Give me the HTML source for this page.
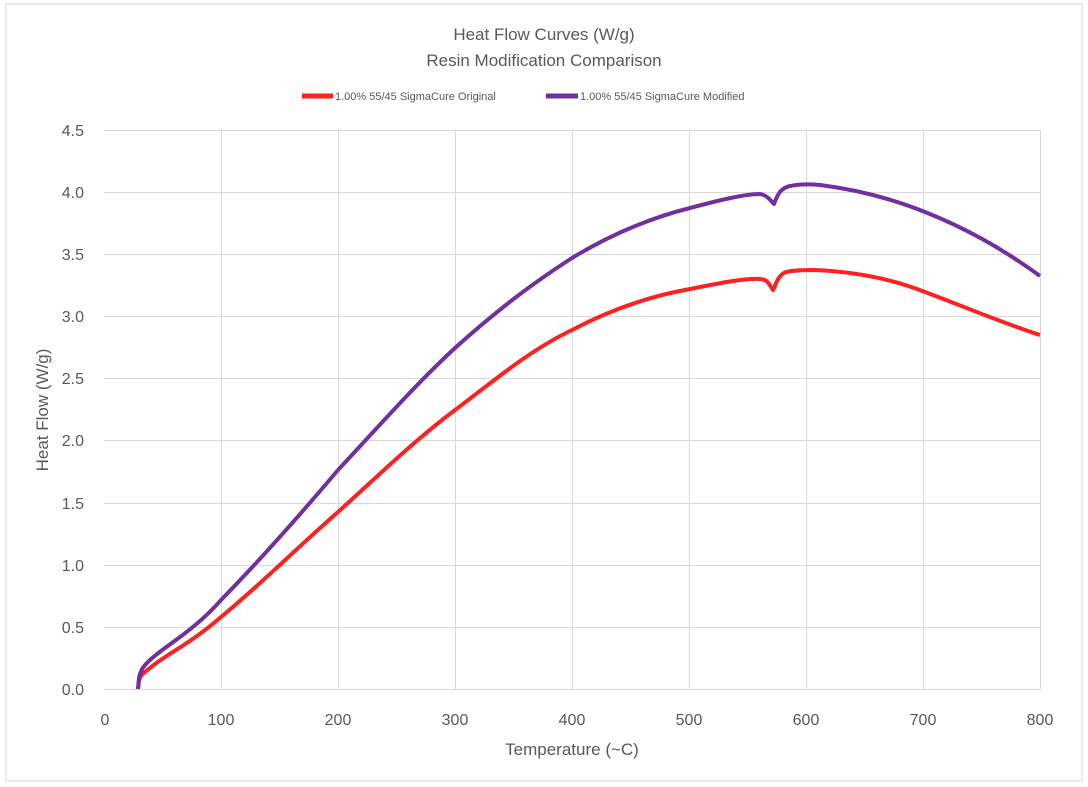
<!DOCTYPE html>
<html><head><meta charset="utf-8"><style>
body{margin:0;background:#fff;}
svg{display:block;font-family:"Liberation Sans",sans-serif;}
</style></head><body>
<svg width="1088" height="787" viewBox="0 0 1088 787">
<rect x="6" y="4" width="1076" height="777" fill="#fff" stroke="#d9d9d9" stroke-width="1"/>
<g stroke="#d9d9d9" stroke-width="1">
<line x1="104" y1="130.5" x2="1040" y2="130.5"/>
<line x1="104" y1="192.5" x2="1040" y2="192.5"/>
<line x1="104" y1="254.5" x2="1040" y2="254.5"/>
<line x1="104" y1="316.5" x2="1040" y2="316.5"/>
<line x1="104" y1="378.5" x2="1040" y2="378.5"/>
<line x1="104" y1="440.5" x2="1040" y2="440.5"/>
<line x1="104" y1="503.5" x2="1040" y2="503.5"/>
<line x1="104" y1="565.5" x2="1040" y2="565.5"/>
<line x1="104" y1="627.5" x2="1040" y2="627.5"/>
<line x1="221.5" y1="130" x2="221.5" y2="689"/>
<line x1="338.5" y1="130" x2="338.5" y2="689"/>
<line x1="455.5" y1="130" x2="455.5" y2="689"/>
<line x1="572.5" y1="130" x2="572.5" y2="689"/>
<line x1="689.5" y1="130" x2="689.5" y2="689"/>
<line x1="806.5" y1="130" x2="806.5" y2="689"/>
<line x1="923.5" y1="130" x2="923.5" y2="689"/>
<line x1="1040.5" y1="130" x2="1040.5" y2="689"/>
<line x1="104" y1="689.5" x2="1040" y2="689.5"/>
</g>
<g fill="#595959" font-size="16" text-anchor="end">
<text x="84" y="136">4.5</text><text x="84" y="198">4.0</text><text x="84" y="260">3.5</text>
<text x="84" y="322">3.0</text><text x="84" y="384">2.5</text><text x="84" y="446">2.0</text>
<text x="84" y="509">1.5</text><text x="84" y="571">1.0</text><text x="84" y="633">0.5</text>
<text x="84" y="695">0.0</text>
</g>
<g fill="#595959" font-size="16" text-anchor="middle">
<text x="105" y="725">0</text><text x="221" y="725">100</text><text x="338" y="725">200</text>
<text x="455" y="725">300</text><text x="572" y="725">400</text><text x="689" y="725">500</text>
<text x="806" y="725">600</text><text x="923" y="725">700</text><text x="1040" y="725">800</text>
<text x="572" y="755" font-size="17">Temperature  (~C)</text>
<text x="544" y="40" font-size="17">Heat Flow Curves (W/g)</text>
<text x="544" y="66" font-size="17">Resin Modification Comparison</text>
</g>
<text transform="translate(48,410) rotate(-90)" fill="#595959" font-size="17" text-anchor="middle">Heat Flow (W/g)</text>
<line x1="302" y1="96" x2="333" y2="96" stroke="#ff2020" stroke-width="5"/>
<text x="335" y="100" fill="#595959" font-size="11">1.00% 55/45 SigmaCure Original</text>
<line x1="546" y1="96" x2="578" y2="96" stroke="#7030a0" stroke-width="5"/>
<text x="580" y="100" fill="#595959" font-size="11">1.00% 55/45 SigmaCure Modified</text>
<path fill="none" stroke="#ff2020" stroke-width="4" stroke-linejoin="round"
d="M138,689 L139,680 C141,674 145,672 150,668 C165,655 190,644 221,617 C260,585 300,545 338,512 C380,474 415,440 455,410 C495,380 530,350 572,330 C610,310 650,296 690,289 C720,283 745,278 760,279 C768,279 770,286 773,290 C776,284 778,275 786,272 C795,270 805,270 815,270 C860,272 895,280 925,292 C965,307 1000,322 1040,335"/>
<path fill="none" stroke="#7030a0" stroke-width="4" stroke-linejoin="round"
d="M138,689 L139,678 C141,668 145,665 150,660 C165,646 195,630 221,600 C260,560 300,515 338,470 C380,425 415,385 455,348 C495,312 530,285 572,258 C610,235 650,218 690,208 C720,200 745,194 760,194 C767,195 770,200 774,204 C777,196 780,188 790,186 C800,184 810,184 820,185 C860,190 895,200 925,212 C965,228 1000,247 1040,276"/>
</svg>
</body></html>
